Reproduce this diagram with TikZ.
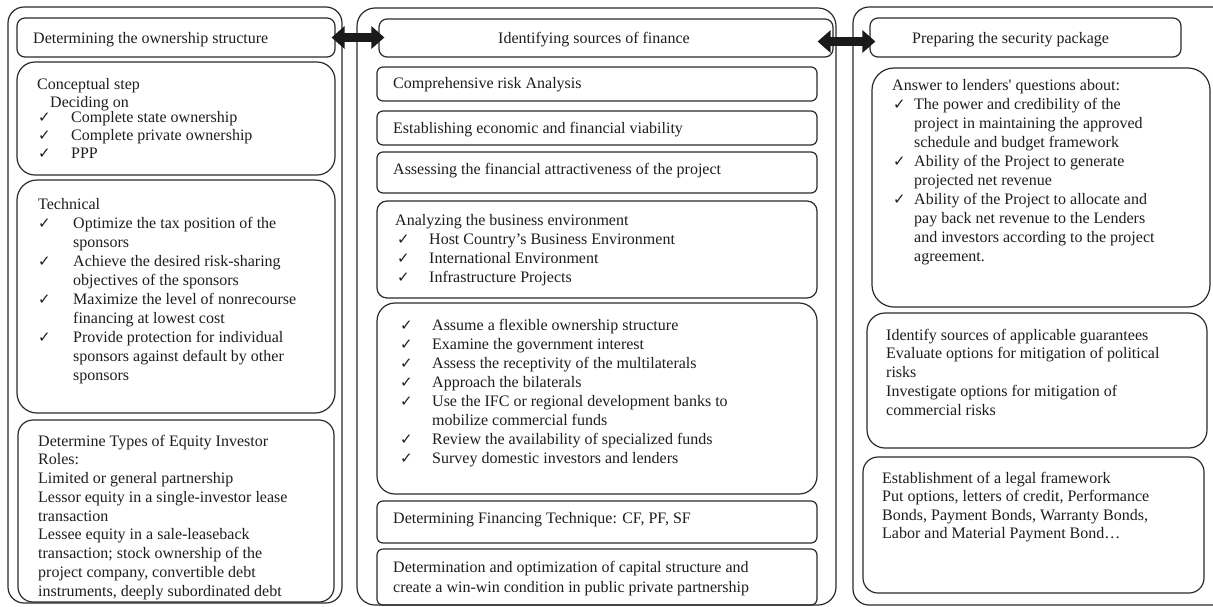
\documentclass[tikz,border=0pt]{standalone}
\usepackage{fontspec}
\setmainfont{Liberation Serif}
\newfontfamily\chkfont{DejaVu Sans}
\usetikzlibrary{arrows.meta,fit}

\definecolor{linec}{HTML}{2B2B2B}
\definecolor{textc}{HTML}{1E1E1E}
\definecolor{arrowc}{HTML}{1A1A1A}

% check mark, checked line (lead, text offset, text), continuation line
\newcommand\ckmark{{\chkfont\fontsize{15}{15}\selectfont ✓}}
\newcommand\ckl[3]{\hspace*{#1pt}\makebox[\dimexpr#2pt-#1pt\relax][l]{\ckmark}#3}
\newcommand\cnt[2]{\hspace*{#1pt}#2}
\newcommand\blk[1]{\parbox[t]{460pt}{\raggedright #1}}

\tikzset{
  box/.style={draw=linec, line width=1.2pt, rounded corners=#1, inner sep=0pt},
  box/.default=8pt,
  txt/.style={inner sep=0pt, anchor=base west, text=textc,
    font=\fontsize{16}{19}\selectfont},
  link/.style={draw=arrowc, line width=8.5pt,
    {Triangle[length=13pt,width=22pt]}-{Triangle[length=13pt,width=22pt]}},
}

\begin{document}
\begin{tikzpicture}[x=1pt, y=-1pt]
\useasboundingbox (0,0) rectangle (1213,606);
\fill[white] (0,0) rectangle (1213,606);

% ---- outer frames ----
\node[box=16pt, fit={(8,7) (342,603)}] (lo) {};
\node[box=18pt, fit={(357,8) (836,605)}] (mo) {};
\node[box=16pt, fit={(853,7) (1228,605)}] (ro) {};

% ---- left column ----
\node[box=8pt,  fit={(17,18) (335,57)}]   (lh) {};
\node[box=18pt, fit={(17,62) (335,175)}]  (lc) {};
\node[box=20pt, fit={(17,180) (335,413)}] (lt) {};
\node[box=15pt, fit={(18,420) (334,602)}] (le) {};

\node[txt] (lhT) at (33,43) {Determining the ownership structure};
\node[txt] (lcT) at (37,89) {\blk{Conceptual step\\[-1pt]
  \cnt{13}{Deciding on}\\[-4pt]
  \ckl{1}{34}{Complete state ownership}\\[-1pt]
  \ckl{1}{34}{Complete private ownership}\\[-1pt]
  \ckl{1}{34}{PPP}}};
\node[txt] (ltT) at (38,209) {\blk{Technical\\
  \ckl{0}{35}{Optimize the tax position of the}\\
  \cnt{35}{sponsors}\\
  \ckl{0}{35}{Achieve the desired risk-sharing}\\
  \cnt{35}{objectives of the sponsors}\\
  \ckl{0}{35}{Maximize the level of nonrecourse}\\
  \cnt{35}{financing at lowest cost}\\
  \ckl{0}{35}{Provide protection for individual}\\
  \cnt{35}{sponsors against default by other}\\
  \cnt{35}{sponsors}}};
\node[txt] (leT) at (38,446) {\blk{\fontsize{16}{18.75}\selectfont
  Determine Types of Equity Investor\\
  Roles:\\
  Limited or general partnership\\
  Lessor equity in a single-investor lease\\
  transaction\\
  Lessee equity in a sale-leaseback\\
  transaction; stock ownership of the\\
  project company, convertible debt\\
  instruments, deeply subordinated debt}};

% ---- middle column ----
\node[box=8pt,  fit={(379,19) (833,57)}]  (mh) {};
\node[box=6pt,  fit={(377,67) (817,101)}] (m1) {};
\node[box=6pt,  fit={(377,111) (817,145)}] (m2) {};
\node[box=6pt,  fit={(377,152) (817,193)}] (m3) {};
\node[box=10pt, fit={(377,201) (817,298)}] (m4) {};
\node[box=18pt, fit={(377,303) (817,494)}] (m5) {};
\node[box=6pt,  fit={(377,501) (817,543)}] (m6) {};
\node[box=6pt,  fit={(377,549) (817,605)}] (m7) {};

\node[txt] (mhT) at (498,43) {Identifying sources of finance};
\node[txt] (m1T) at (393,88) {Comprehensive risk Analysis};
\node[txt] (m2T) at (393,133) {Establishing economic and financial viability};
\node[txt] (m3T) at (393,174) {Assessing the financial attractiveness of the project};
\node[txt] (m4T) at (395,225) {\blk{Analyzing the business environment\\
  \ckl{2}{34}{Host Country’s Business Environment}\\
  \ckl{2}{34}{International Environment}\\
  \ckl{2}{34}{Infrastructure Projects}}};
\node[txt] (m5T) at (400,330) {\blk{
  \ckl{0}{32}{Assume a flexible ownership structure}\\
  \ckl{0}{32}{Examine the government interest}\\
  \ckl{0}{32}{Assess the receptivity of the multilaterals}\\
  \ckl{0}{32}{Approach the bilaterals}\\
  \ckl{0}{32}{Use the IFC or regional development banks to}\\
  \cnt{32}{mobilize commercial funds}\\
  \ckl{0}{32}{Review the availability of specialized funds}\\
  \ckl{0}{32}{Survey domestic investors and lenders}}};
\node[txt] (m6T) at (393,523) {Determining Financing Technique: CF, PF, SF};
\node[txt] (m7T) at (393,572) {\blk{Determination and optimization of capital structure and\\[1pt]
  create a win-win condition in public private partnership}};

% ---- right column ----
\node[box=8pt,  fit={(870,18) (1181,57)}]  (rh) {};
\node[box=22pt, fit={(872,68) (1210,307)}] (r1) {};
\node[box=18pt, fit={(867,313) (1207,448)}] (r2) {};
\node[box=15pt, fit={(863,457) (1204,593)}] (r3) {};

\node[txt] (rhT) at (912,43) {Preparing the security package};
\node[txt] (r1T) at (892,90) {\blk{Answer to lenders\textquotesingle{} questions about:\\
  \ckl{1}{22}{The power and credibility of the}\\
  \cnt{22}{project in maintaining the approved}\\
  \cnt{22}{schedule and budget framework}\\
  \ckl{1}{22}{Ability of the Project to generate}\\
  \cnt{22}{projected net revenue}\\
  \ckl{1}{22}{Ability of the Project to allocate and}\\
  \cnt{22}{pay back net revenue to the Lenders}\\
  \cnt{22}{and investors according to the project}\\
  \cnt{22}{agreement.}}};
\node[txt] (r2T) at (886,340) {\blk{\fontsize{16}{18.75}\selectfont
  Identify sources of applicable guarantees\\
  Evaluate options for mitigation of political\\
  risks\\
  Investigate options for mitigation of\\
  commercial risks}};
\node[txt] (r3T) at (882,483) {\blk{\fontsize{16}{18.5}\selectfont
  Establishment of a legal framework\\
  Put options, letters of credit, Performance\\
  Bonds, Payment Bonds, Warranty Bonds,\\
  Labor and Material Payment Bond…}};

% ---- two-way links between the stage headers ----
\coordinate (a1e) at (lh.east -| mh.west);
\draw[link] ([xshift=-4pt]lh.east) -- ([xshift=6pt]a1e);
\coordinate (a2s) at ([xshift=-16pt,yshift=-3.5pt]mh.east);
\coordinate (a2e) at (a2s -| rh.west);
\draw[link] (a2s) -- ([xshift=6pt]a2e);
\end{tikzpicture}
\end{document}
